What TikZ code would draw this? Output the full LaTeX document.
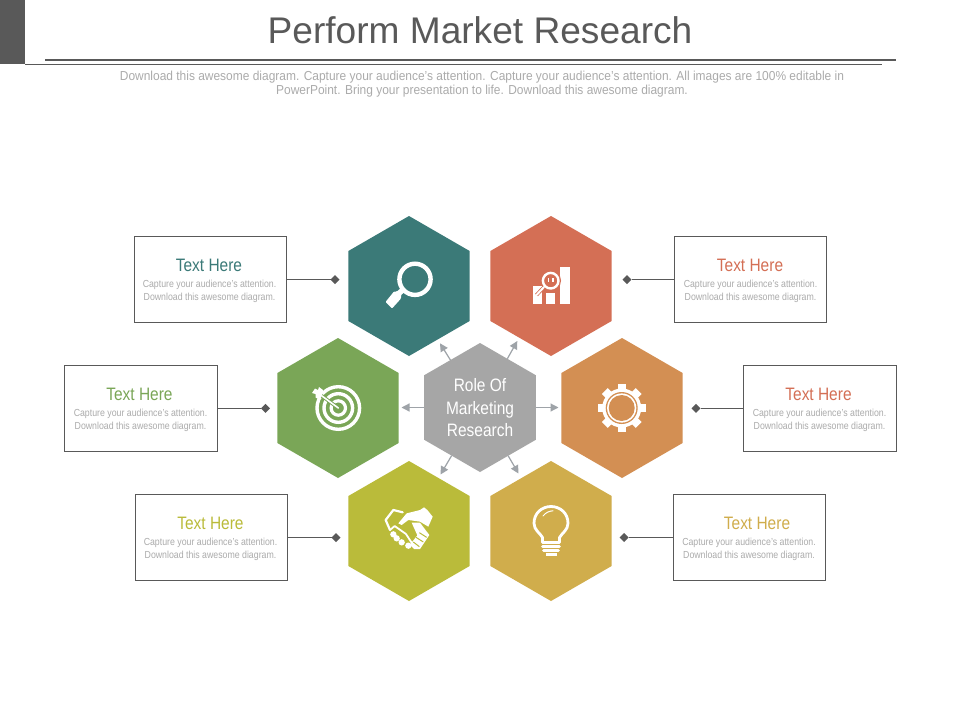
\documentclass[tikz,border=0pt]{standalone}
\usepackage{fontspec}
\setmainfont{Liberation Sans}
\newfontfamily\narrowf[FakeStretch=0.86]{Liberation Sans}
\newfontfamily\subf[FakeStretch=0.92]{Liberation Sans}
\usetikzlibrary{shapes.geometric,arrows.meta}
\definecolor{cteal}{HTML}{3B7A78}
\definecolor{cred}{HTML}{D46F55}
\definecolor{cgreen}{HTML}{7AA657}
\definecolor{corange}{HTML}{D38F53}
\definecolor{colive}{HTML}{BABB3A}
\definecolor{cgold}{HTML}{D0AD4C}
\definecolor{chub}{HTML}{A6A6A6}
\definecolor{cdark}{HTML}{595959}
\definecolor{cbody}{HTML}{ABABAB}
\definecolor{carrow}{HTML}{9EA3A8}
\tikzset{
  hexa/.style={regular polygon,regular polygon sides=6,regular polygon rotate=30,minimum size=140pt,inner sep=0pt,outer sep=0pt,fill=#1,draw=none},
  hubhex/.style={regular polygon,regular polygon sides=6,regular polygon rotate=30,minimum size=129pt,inner sep=0pt,outer sep=0pt,fill=chub,draw=none,text=white,align=center},
  infobox/.style={draw=cdark,line width=.9pt,fill=white,minimum width=152.4pt,minimum height=86.4pt,inner sep=0pt,outer sep=0pt},
  headtxt/.style={font=\narrowf\fontsize{18}{20}\selectfont,text=#1,inner sep=0pt},
  bodytxt/.style={font=\narrowf\fontsize{10.2}{13}\selectfont,text=cbody,align=center,inner sep=0pt},
  leader/.style={draw=cdark,line width=1pt},
  tipdot/.style={diamond,fill=cdark,minimum size=9pt,inner sep=0pt,outer sep=0pt},
  spoke/.style={draw=carrow,line width=1.2pt,-{Triangle[length=8pt,width=8pt]}},
  wline/.style={draw=white,fill=none,line cap=round,line join=round},
}
\newcommand{\bodylines}{Capture your audience’s attention.\\Download this awesome diagram.}
\begin{document}
\begin{tikzpicture}[x=1pt,y=-1pt]
\useasboundingbox (0,0) rectangle (960,720);
\fill[white] (0,0) rectangle (960,720);
% header
\fill[cdark] (0,0) rectangle (25,64);
\draw[cdark,line width=2pt] (45,60) -- (896,60);
\draw[cdark,line width=.8pt] (25,64.3) -- (882,64.3);
\node[font=\fontsize{37.1}{40}\selectfont,text=cdark,inner sep=0pt] (title) at (480,30) {Perform Market Research};
\node[font=\subf\fontsize{13}{14.3}\selectfont,text=cbody,align=center,inner sep=0pt] (sub) at (482,84) {Download this awesome diagram. Capture your audience’s attention. Capture your audience’s attention. All images are 100\% editable in\\PowerPoint. Bring your presentation to life. Download this awesome diagram.};
% hexagons
\node[hexa=cteal] (h1) at (409,286) {};
\node[hexa=cred] (h2) at (551,286) {};
\node[hexa=cgreen] (h3) at (338,408) {};
\node[hexa=corange] (h4) at (622,408) {};
\node[hexa=colive] (h5) at (409,531) {};
\node[hexa=cgold] (h6) at (551,531) {};
\node[hubhex] (hub) at (480,407.5) {};
\node[font=\narrowf\fontsize{18}{22.5}\selectfont,text=white,align=center,inner sep=0pt] (hubtxt) at (480,408) {Role Of\\Marketing\\Research};
% spokes
\coordinate (s1) at (440,343.3);
\coordinate (s2) at (517.3,341);
\coordinate (s3) at (401.5,407.5);
\coordinate (s4) at (558.5,407.5);
\coordinate (s5) at (440.5,474.5);
\coordinate (s6) at (518.5,473.5);
\foreach \t in {s1,s2,s3,s4,s5,s6} \draw[spoke] (hub) -- (\t);
% boxes
\node[infobox] (b1) at (210.5,279.5) {};
\node[infobox] (b2) at (750.5,279.5) {};
\node[infobox] (b3) at (141,408.5) {};
\node[infobox] (b4) at (820,408.5) {};
\node[infobox] (b5) at (211.5,537.5) {};
\node[infobox] (b6) at (749.5,537.5) {};
\node[headtxt=cteal] (t1) at (209,265.5) {Text Here};
\node[headtxt=cred] (t2) at (750,265.5) {Text Here};
\node[headtxt=cgreen] (t3) at (139.5,394.5) {Text Here};
\node[headtxt=cred] (t4) at (818.5,394.5) {Text Here};
\node[headtxt=colive] (t5) at (210.5,523.5) {Text Here};
\node[headtxt=cgold] (t6) at (757,523.5) {Text Here};
\node[bodytxt] (d1) at (209.5,291.7) {\bodylines};
\node[bodytxt] (d2) at (750.5,291.7) {\bodylines};
\node[bodytxt] (d3) at (140.5,420.7) {\bodylines};
\node[bodytxt] (d4) at (819.5,420.7) {\bodylines};
\node[bodytxt] (d5) at (210.5,549.7) {\bodylines};
\node[bodytxt] (d6) at (749,549.7) {\bodylines};
% leaders
\node[tipdot] (p1) at (335,279.7) {};
\node[tipdot] (p2) at (627,279.7) {};
\node[tipdot] (p3) at (265.5,408.3) {};
\node[tipdot] (p4) at (696,408.3) {};
\node[tipdot] (p5) at (336,537.5) {};
\node[tipdot] (p6) at (624,537.5) {};
\draw[leader] (b1.east |- p1) -- (p1);
\draw[leader] (b2.west |- p2) -- (p2);
\draw[leader] (b3.east |- p3) -- (p3);
\draw[leader] (b4.west |- p4) -- (p4);
\draw[leader] (b5.east |- p5) -- (p5);
\draw[leader] (b6.west |- p6) -- (p6);
% icon: magnifier
\draw[white,line width=4.4pt] (415,279.3) circle (15.6);
\fill[white,rounded corners=1pt] (385.5,302) -- (394,291.5) -- (397,291.5) -- (402,287) -- (406,291) -- (401,295) -- (401,298.5) -- (392,308.5) -- cycle;
% icon: chart
\fill[white] (533,286) rectangle (542.3,304);
\fill[white] (546,293) rectangle (555,304);
\fill[white] (560,266.7) rectangle (570,304);
\fill[cred] (550.7,280.7) circle (10.3);
\draw[cred,line width=3.6pt] (544,287) -- (536.5,295);
\draw[white,line width=2pt,line cap=round] (544,287) -- (536.5,295);
\draw[white,line width=2.4pt] (550.7,280.7) circle (7.8);
\fill[white] (547.8,277.5) rectangle (549.3,282);
\fill[white] (552.2,277.5) rectangle (553.7,282);
% icon: target
\draw[white,line width=3.4pt] (338.3,408) circle (21.3);
\draw[white,line width=3.4pt] (338.3,408) circle (14.3);
\draw[white,line width=3.2pt] (338.3,408) circle (7.2);
\draw[cgreen,line width=3.5pt] (338.3,408) -- (318,393);
\draw[white,line width=1.6pt,line cap=round] (338.3,408) -- (320,394.5);
\fill[white] (322.5,394) -- (319.5,399.5) -- (315.5,397.5) -- (315.5,394) -- (312,393) -- (315,388.5) -- (318,390) -- (319,387) -- (323,390) -- cycle;
% icon: gear
\foreach \a in {0,45,...,315}
  \fill[white,rotate around={\a:(621.7,408)}] (617.5,384) rectangle (625.9,394);
\fill[white] (621.7,408) circle (19.5);
\fill[corange] (621.7,408) circle (16);
\fill[white] (621.7,408) circle (14.6);
\fill[corange] (621.7,408) circle (13);
% icon: handshake
\begin{scope}[shift={(380,502)},x=.3333pt,y=-.3333pt]
\draw[wline,line width=2.2pt] (68,31) -- (40,24) -- (17,54) -- (30,84);
\draw[wline,line width=1.8pt] (30,84) -- (44,72) -- (78,96) -- (100,130);
\fill[white] (55,64) -- (80,34) -- (120,24) -- (132,16) -- (142,24) -- (158,44) -- (145,74) -- (120,59) -- (85,54) -- (65,69) -- cycle;
\fill[white] (95,62) -- (120,62) -- (148,99) -- (120,141) -- (102,141) -- (90,128) -- (112,100) -- cycle;
\draw[colive,line width=1pt] (140,106) -- (118,92);
\draw[colive,line width=1pt] (130,120) -- (108,106);
\draw[colive,line width=1pt] (118,134) -- (100,120);
\fill[white] (40,97) circle (9.5);
\fill[white] (50,109) circle (9.5);
\fill[white] (65,121) circle (9.5);
\fill[white] (85,131) circle (9.5);
\end{scope}
% icon: bulb
\draw[wline,line width=2.8pt] (542.5,542) -- (542.5,537.5) .. controls (540,533) and (534,530) .. (534,523.3) .. controls (534,513) and (542,506.5) .. (551,506.5) .. controls (560,506.5) and (568,513) .. (568,523.3) .. controls (568,530) and (562,533) .. (559.5,537.5) -- (559.5,542);
\draw[white,line width=1pt,line cap=round] (543,516) .. controls (546,512) and (550,511) .. (553,510.8);
\draw[white,line width=2.6pt,line cap=round] (542.5,542.5) -- (559.5,542.5);
\draw[white,line width=2.6pt,line cap=round] (542.5,546.6) -- (559.5,546.6);
\draw[white,line width=2.6pt,line cap=round] (543.5,550.7) -- (558.5,550.7);
\fill[white] (545.5,552.5) rectangle (556.5,556);
\end{tikzpicture}
\end{document}
